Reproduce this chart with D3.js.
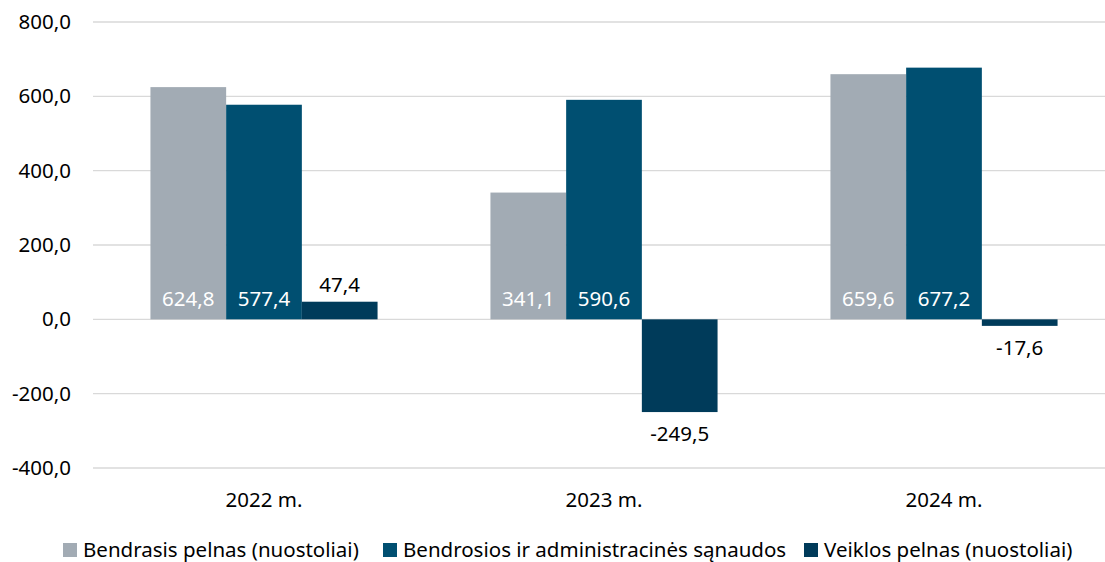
<!DOCTYPE html>
<html>
<head>
<meta charset="utf-8">
<script src="https://cdn.jsdelivr.net/npm/d3@7"></script>
<style>
  body { margin: 0; background: #fff; }
  text { font-family: "Noto Sans", "Open Sans", sans-serif; }
</style>
</head>
<body>
<svg></svg>
<script>
const years = ['2022 m.', '2023 m.', '2024 m.'];
const seriesNames = [
  'Bendrasis pelnas (nuostoliai)',
  'Bendrosios ir administracinės sąnaudos',
  'Veiklos pelnas (nuostoliai)'
];
const grossProfit = [624.8, 341.1, 659.6];
const adminCosts = [577.4, 590.6, 677.2];
const operatingProfit = [47.4, -249.5, -17.6];
const yTicks = [-400, -200, 0, 200, 400, 600, 800];
const colors = ['#A2ABB4', '#004F71', '#003B5A'];

const width = 1105, height = 562;
const fontSize = 20.5;
const svg = d3.select('svg').attr('width', width).attr('height', height);

const series = [grossProfit, adminCosts, operatingProfit];
const rows = years.map((y, i) => ({
  year: y,
  values: series.map((s, k) => ({ key: k, value: s[i] }))
}));

// comma decimal, plain hyphen for negatives
const fmt = v => (v < 0 ? '-' : '') + d3.format('.1f')(Math.abs(v)).replace('.', ',');

const y = d3.scaleLinear().domain([-400, 800]).range([468, 22]);
const x0 = d3.scaleBand().domain(years).range([94, 1114]);
const x1 = d3.scaleBand().domain([0, 1, 2])
  .range([x0.bandwidth() * 0.166, x0.bandwidth() * 0.834]);

// gridlines
svg.append('g')
  .selectAll('line')
  .data(yTicks)
  .enter().append('line')
  .attr('x1', 93).attr('x2', width)
  .attr('y1', d => y(d)).attr('y2', d => y(d))
  .attr('stroke', '#d9d9d9')
  .attr('stroke-width', 1.3);

// y labels
const yAxis = svg.append('g')
  .attr('transform', 'translate(71,0)')
  .call(d3.axisLeft(y).tickValues(yTicks).tickSize(0).tickPadding(0).tickFormat(fmt));
yAxis.select('.domain').remove();
yAxis.selectAll('text')
  .attr('font-size', fontSize)
  .attr('fill', '#000')
  .style('font-family', '"Noto Sans", sans-serif');

// bars
const groups = svg.append('g')
  .selectAll('g')
  .data(rows)
  .enter().append('g')
  .attr('transform', d => `translate(${x0(d.year)},0)`);

groups.selectAll('rect')
  .data(d => d.values)
  .enter().append('rect')
  .attr('x', d => x1(d.key))
  .attr('width', x1.bandwidth())
  .attr('y', d => y(Math.max(0, d.value)))
  .attr('height', d => Math.abs(y(d.value) - y(0)))
  .attr('fill', d => colors[d.key]);

// value labels
groups.selectAll('text.val')
  .data(d => d.values)
  .enter().append('text')
  .attr('class', 'val')
  .attr('x', d => x1(d.key) + x1.bandwidth() / 2)
  .attr('y', d => {
    if (d.key < 2) return y(0) - 13;
    return d.value >= 0 ? y(d.value) - 10 : y(d.value) + 29;
  })
  .attr('text-anchor', 'middle')
  .attr('font-size', fontSize)
  .attr('fill', d => d.key < 2 ? '#fff' : '#000')
  .text(d => fmt(d.value));

// category labels
svg.append('g')
  .selectAll('text')
  .data(years)
  .enter().append('text')
  .attr('x', d => x0(d) + x0.bandwidth() / 2)
  .attr('y', 507)
  .attr('text-anchor', 'middle')
  .attr('font-size', fontSize)
  .text(d => d);

// legend
const legend = svg.append('g').attr('transform', 'translate(0,550)');
const legendX = [63, 383, 804];
const items = legend.selectAll('g')
  .data(seriesNames)
  .enter().append('g')
  .attr('transform', (d, i) => `translate(${legendX[i]},0)`);
items.append('rect')
  .attr('x', 0).attr('y', -7)
  .attr('width', 14).attr('height', 14)
  .attr('fill', (d, i) => colors[i]);
items.append('text')
  .attr('x', 20).attr('y', 7)
  .attr('font-size', fontSize)
  .text(d => d);
</script>
</body>
</html>
